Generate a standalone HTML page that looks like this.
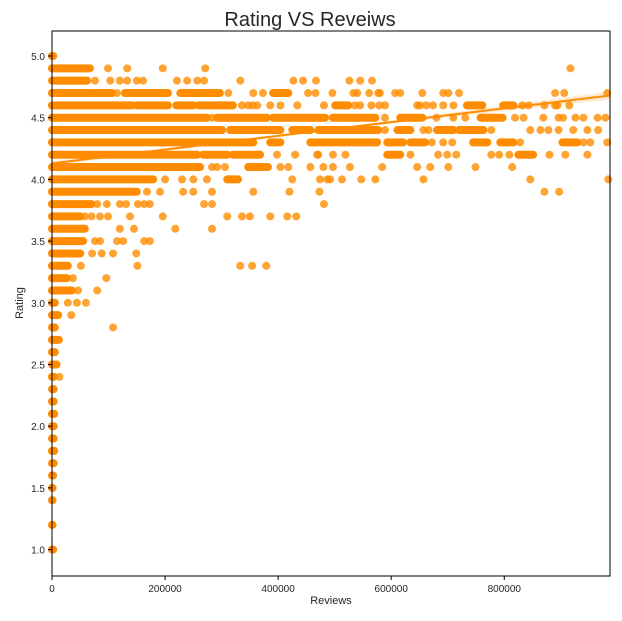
<!DOCTYPE html>
<html><head><meta charset="utf-8"><style>
body{margin:0;background:#fff;}
svg text{font-family:"Liberation Sans",sans-serif;fill:#262626;}
</style></head><body>
<svg id="chart" width="622" height="616" viewBox="0 0 622 616">
<rect width="622" height="616" fill="#fff"/>
<text x="310" y="26" font-size="20" text-anchor="middle">Rating VS Reveiws</text>
<g id="marks"></g>
<g id="axes"></g>
<text x="331" y="604" font-size="11" text-anchor="middle">Reviews</text>
<text x="23" y="303" font-size="11" text-anchor="middle" transform="rotate(-90 23 303)">Rating</text>
</svg>
<script>
// ratings (rows), dense runs [startK,endK] in thousands of reviews, sparse points in thousands
const ratings = [5.0,4.9,4.8,4.7,4.6,4.5,4.4,4.3,4.2,4.1,4.0,3.9,3.8,3.7,3.6,3.5,3.4,3.3,3.2,3.1,3.0,2.9,2.8,2.7,2.6,2.5,2.4,2.3,2.2,2.1,2.0,1.9,1.8,1.7,1.6,1.5,1.4,1.2,1.0];
const runs = [
 [[0,2]],[[0,67]],[[0,62]],[[0,71],[76,106],[129,205],[227,297],[391,418]],
 [[0,142],[150,205],[220,250],[260,320],[501,524],[734,761],[798,816]],
 [[0,274],[292,380],[391,483],[497,572],[616,655],[758,797]],
 [[0,301],[315,404],[425,457],[471,577],[611,634],[681,710],[720,763]],
 [[0,356],[386,404],[457,575],[593,621],[634,660],[745,770],[793,816],[903,929]],
 [[0,257],[267,310],[320,368],[593,616],[825,851]],
 [[0,262],[347,382]],
 [[0,179],[310,329]],
 [[0,150]],[[0,70]],[[0,50]],[[0,58]],[[0,55]],[[0,50]],[[0,28]],[[0,26]],[[0,35]],[[0,5]],[[0,11]],[[0,5]],[[0,12]],[[0,5]],[[0,8]],[[0,3]],[[0,3]],[[0,3]],[[0,4]],[[0,3]],[[0,3]],[[0,4]],[[0,3]],[[0,2]],[[0,1]],[[0,1]],[[0,1]],[[0,2]]
];
const points = [
 [],
 [99,133,196,271,917],
 [76,103,120,133,150,161,221,239,257,269,333,427,444,467,526,545,566],
 [115,312,356,373,453,466,496,533,540,561,577,580,607,616,655,692,701,720,890,906,982],
 [336,347,355,363,386,404,434,481,536,545,565,579,589,646,651,662,674,692,710,832,843,871,890,894,915],
 [283,497,510,589,680,710,731,819,834,869,896,904,926,940,965,979],
 [589,657,666,777,846,864,878,896,922,947,966],
 [672,692,708,828,940,952,982],
 [398,430,469,497,471,519,634,683,699,715,777,791,809,880,908,947],
 [283,292,306,404,418,457,480,497,527,584,646,669,701,749,814],
 [200,230,250,274,425,474,487,492,513,547,572,657,846,984],
 [168,191,232,250,283,356,420,473,871,897],
 [67,80,97,120,131,152,163,173,269,283,481],
 [58,70,85,99,138,196,310,336,350,386,416,432],
 [120,145,218,283],
 [76,85,115,126,163,173],
 [71,88,108,149],
 [51,151,333,354,379],
 [37,96],[46,80],[28,44,60],[34],[108],[],[],[],[13],[],[],[],[],[],[],[],[],[],[],[],[]
];
const regStart = [0,4.13], regEnd = [987,4.68];
const yTicks = ["1.0","1.5","2.0","2.5","3.0","3.5","4.0","4.5","5.0"];
const xTicks = ["0","200000","400000","600000","800000"];

const X0=52,X1=610,Y0=31,Y1=576,XMAXK=987;
const sx=k=>X0+(k/XMAXK)*(X1-X0);
const sy=r=>56+(5-r)*123.4;
const NS="http://www.w3.org/2000/svg";
const marks=document.getElementById('marks');
const axes=document.getElementById('axes');
function mk(tag,attrs,parent){const e=document.createElementNS(NS,tag);for(const k in attrs)e.setAttribute(k,attrs[k]);parent.appendChild(e);return e;}

ratings.forEach((r,i)=>{
  runs[i].forEach(([a,b])=>{
    const l=mk('line',{x1:sx(a),x2:sx(b),y1:sy(r),y2:sy(r),stroke:'#ff8c00','stroke-width':8,'stroke-linecap':'round'},marks);
    
    
  });
  points[i].forEach(k=>{
    const c=mk('circle',{cx:sx(k),cy:sy(r),r:4,fill:'#ff8c00','fill-opacity':0.8},marks);
    
    
  });
});
// confidence band + regression line
const xa=sx(regStart[0]),xb=sx(regEnd[0]),ya=sy(regStart[1]),yb=sy(regEnd[1]);
const band=mk('polygon',{points:`${xa},${ya-2} ${(xa+xb)/2},${(ya+yb)/2-1} ${xb},${yb-4} ${xb},${yb+4} ${(xa+xb)/2},${(ya+yb)/2+1} ${xa},${ya+2}`,fill:'#ff8c00','fill-opacity':0.18},marks);


const reg=mk('line',{x1:xa,y1:ya,x2:xb,y2:yb,stroke:'#ff8c00','stroke-width':2},marks);



const frame=mk('rect',{x:X0,y:Y0,width:X1-X0,height:Y1-Y0,fill:'none',stroke:'#000','stroke-width':1},axes);


yTicks.forEach(t=>{
  const y=sy(parseFloat(t));
  mk('line',{x1:X0-4,x2:X0,y1:y,y2:y,stroke:'#000'},axes);
  const tx=mk('text',{x:X0-7,y:y+4,'font-size':10,'text-anchor':'end'},axes);
  tx.textContent=t;
  
  
});
xTicks.forEach(t=>{
  const x=sx(parseFloat(t)/1000);
  mk('line',{x1:x,x2:x,y1:Y1,y2:Y1+4,stroke:'#000'},axes);
  const tx=mk('text',{x:x,y:Y1+16,'font-size':10,'text-anchor':'middle'},axes);
  tx.textContent=t;
  
  
});
</script>
</body></html>
